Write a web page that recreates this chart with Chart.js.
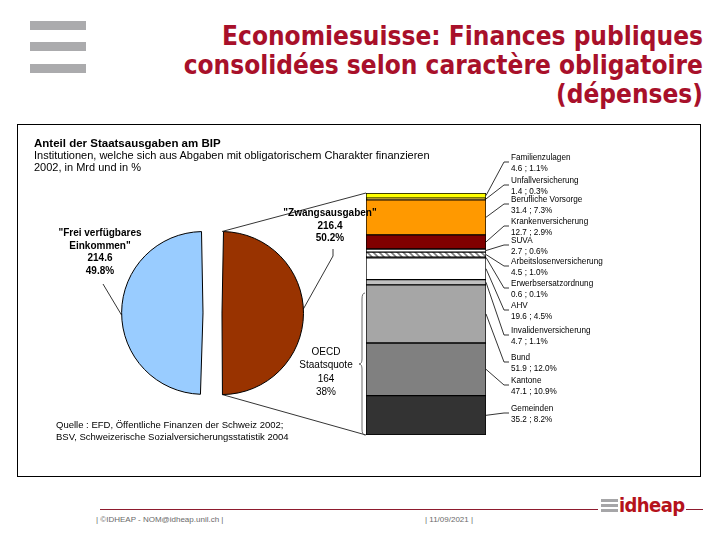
<!DOCTYPE html>
<html lang="de">
<head>
<meta charset="utf-8">
<title>Economiesuisse: Finances publiques consolidées</title>
<script src="https://cdn.jsdelivr.net/npm/chart.js@4.4.1/dist/chart.umd.min.js"></script>
<style>
  html, body { margin: 0; padding: 0; background: #fff; }
  #folie { position: relative; width: 720px; height: 540px; overflow: hidden;
           font-family: "Liberation Sans", Arial, sans-serif; color: #000; }
  .abs { position: absolute; white-space: nowrap; }
  #titel { right: 17px; top: 22px; text-align: right; color: #A8102A;
           font-family: "DejaVu Sans Condensed", "DejaVu Sans", sans-serif; font-stretch: condensed;
           font-weight: bold; font-size: 26px; line-height: 29px; }
  .icon-balken { position: absolute; left: 30px; width: 56px; height: 9px; background: #ABABAD; }
  #rahmen { position: absolute; left: 17px; top: 124px; width: 684px; height: 353px;
            box-sizing: border-box; border: 1px solid #000; }
  #cBalken { position: absolute; left: 17px; top: 124px; }
  #cKuchen { position: absolute; left: 92px; top: 193px; }
  #kopf { left: 34px; top: 137px; font-size: 11px; line-height: 12px; }
  #kopf b { font-size: 11.5px; }
  .kuchen-text { font-size: 10px; line-height: 12.5px; text-align: center; font-weight: bold; }
  #oecd { left: 296px; width: 60px; top: 345px; font-size: 10px; line-height: 13.3px; text-align: center; }
  #quelle { left: 56px; top: 419px; font-size: 9.5px; line-height: 12px; }
  .etikett { font-size: 9.5px; line-height: 10.5px; left: 511px;
             transform: scaleX(0.86); transform-origin: left top; }
  #fusslinie1 { position: absolute; left: 100px; top: 509px; width: 498px; height: 1px; background: #8E1B2E; }
  #fusslinie2 { position: absolute; left: 686px; top: 509px; width: 17px; height: 1px; background: #8E1B2E; }
  .fuss-text { font-size: 8px; color: #6a6a6a; top: 515px; }
  .logo-balken { position: absolute; left: 601px; width: 17px; height: 3px; background: #A6A6A8; }
  #logo { left: 619px; top: 493px; font-family: "DejaVu Sans Condensed", "DejaVu Sans", sans-serif;
          font-stretch: condensed; font-weight: bold; font-size: 20px; color: #B5121B; letter-spacing: -0.6px; }
</style>
</head>
<body>
<div id="folie">
  <div class="icon-balken" style="top:21px"></div>
  <div class="icon-balken" style="top:42px"></div>
  <div class="icon-balken" style="top:64px"></div>
  <div id="titel" class="abs">Economiesuisse: Finances publiques<br>consolidées selon caractère obligatoire<br>(dépenses)</div>

  <div id="rahmen"></div>
  <canvas id="cBalken" width="684" height="353"></canvas>
  <canvas id="cKuchen" width="241" height="240"></canvas>

  <div id="kopf" class="abs"><b>Anteil der Staatsausgaben am BIP</b><br>Institutionen, welche sich aus Abgaben mit obligatorischem Charakter finanzieren<br>2002, in Mrd und in %</div>
  <div id="quelle" class="abs">Quelle : EFD, Öffentliche Finanzen der Schweiz 2002;<br>BSV, Schweizerische Sozialversicherungsstatistik 2004</div>
  <div id="etiketten"></div>

  <div id="fusslinie1"></div>
  <div id="fusslinie2"></div>
  <div class="abs fuss-text" style="left:96px">| ©IDHEAP - NOM@idheap.unil.ch |</div>
  <div class="abs fuss-text" style="left:425px">| 11/09/2021 |</div>
  <div class="logo-balken" style="top:499px"></div>
  <div class="logo-balken" style="top:504px"></div>
  <div class="logo-balken" style="top:509px"></div>
  <div id="logo" class="abs">idheap</div>
</div>

<script>
// ==========================
// DATEN
// ==========================
const kategorien = [
  "Familienzulagen", "Unfallversicherung", "Berufliche Vorsorge", "Krankenversicherung",
  "SUVA", "Arbeitslosenversicherung", "Erwerbsersatzordnung", "AHV",
  "Invalidenversicherung", "Bund", "Kantone", "Gemeinden",
];
const werteMrd = [4.6, 1.4, 31.4, 12.7, 2.7, 4.5, 0.6, 19.6, 4.7, 51.9, 47.1, 35.2];
const anteileProzent = [1.1, 0.3, 7.3, 2.9, 0.6, 1.0, 0.1, 4.5, 1.1, 12.0, 10.9, 8.2];

const kuchenLabels = ["Zwangsausgaben", "Frei verfügbares Einkommen"];
const kuchenWerte = [216.4, 214.6];
const kuchenAnteile = [50.2, 49.8];

const oecdStaatsquote = 164;
const oecdAnteil = 38;

// ==========================
// LAYOUT / FARBEN
// ==========================
const RAHMEN_X = 17, RAHMEN_Y = 124;
const KUCHEN_X = 92, KUCHEN_Y = 193;
const KUCHEN_VERSATZ = 38; // Chart.js verschiebt um offset / 4
const etikettY = [157, 180, 199, 221, 240, 261, 283, 305, 330, 357, 380, 408];
const farbenKuchen = ["#993300", "#99CCFF"];

const ctxBalken = document.getElementById("cBalken").getContext("2d");

function schraffur() {
  const c = document.createElement("canvas");
  c.width = 6; c.height = 6;
  const g = c.getContext("2d");
  g.fillStyle = "#fff";
  g.fillRect(0, 0, 6, 6);
  g.strokeStyle = "#7f7f7f";
  g.lineWidth = 1.6;
  g.beginPath();
  g.moveTo(-3, 3); g.lineTo(3, 9);
  g.moveTo(0, 0); g.lineTo(6, 6);
  g.moveTo(3, -3); g.lineTo(9, 3);
  g.stroke();
  return ctxBalken.createPattern(c, "repeat");
}

const farbenBalken = [
  "#FFFF00", "#FFCC00", "#FF9900", "#800000", "#FFFFFF", schraffur(),
  "#000000", "#FFFFFF", "#C0C0C0", "#A6A6A6", "#808080", "#333333",
];

// ==========================
// TEXTE
// ==========================
const fmt = (v) => v.toFixed(1);
const etikettBox = document.getElementById("etiketten");
kategorien.forEach((name, i) => {
  const d = document.createElement("div");
  d.className = "abs etikett";
  d.style.top = (etikettY[i] - 5) + "px";
  d.innerHTML = name + "<br>" + fmt(werteMrd[i]) + " ; " + fmt(anteileProzent[i]) + "%";
  etikettBox.appendChild(d);
});

const folie = document.getElementById("folie");
function kuchenText(html, left, top) {
  const d = document.createElement("div");
  d.className = "abs kuchen-text";
  d.style.left = left + "px";
  d.style.top = top + "px";
  d.style.width = "120px";
  d.innerHTML = html;
  folie.appendChild(d);
}
kuchenText("\"Frei verfügbares<br>Einkommen\"<br>" + fmt(kuchenWerte[1]) + "<br>" + fmt(kuchenAnteile[1]) + "%", 40, 227);
kuchenText("\"" + kuchenLabels[0] + "\"<br>" + fmt(kuchenWerte[0]) + "<br>" + fmt(kuchenAnteile[0]) + "%", 270, 207);

const oecd = document.createElement("div");
oecd.id = "oecd";
oecd.className = "abs";
oecd.innerHTML = "OECD<br>Staatsquote<br>" + oecdStaatsquote + "<br>" + oecdAnteil + "%";
folie.appendChild(oecd);

// ==========================
// KUCHEN
// ==========================
const kuchen = new Chart(document.getElementById("cKuchen"), {
  type: "pie",
  data: {
    labels: kuchenLabels,
    datasets: [{
      data: kuchenWerte,
      backgroundColor: farbenKuchen,
      borderColor: "#000",
      borderWidth: 1,
      offset: KUCHEN_VERSATZ,
      radius: 72,
    }],
  },
  options: {
    responsive: false,
    animation: false,
    devicePixelRatio: 1,
    layout: { padding: 0 },
    plugins: { legend: { display: false }, tooltip: { enabled: false } },
  },
});

// ==========================
// LINIEN (Beschriftung, Klammer, Verbindung)
// ==========================
const linienPlugin = {
  id: "linien",
  afterDatasetsDraw(chart) {
    const ctx = chart.ctx;
    const n = kategorien.length;
    const erster = chart.getDatasetMeta(0).data[0];
    const links = erster.x - erster.width / 2;
    const rechts = erster.x + erster.width / 2;
    const oben = chart.scales.y.getPixelForValue(chart.scales.y.max);
    const unten = chart.scales.y.getPixelForValue(0);

    ctx.save();
    ctx.strokeStyle = "#000";
    ctx.lineWidth = 0.8;

    // Führungslinien zu den Etiketten
    kategorien.forEach((name, i) => {
      const bar = chart.getDatasetMeta(n - 1 - i).data[0];
      const mitte = (bar.y + bar.base) / 2;
      const ay = etikettY[i] + 5 - RAHMEN_Y;
      ctx.beginPath();
      ctx.moveTo(rechts, mitte);
      ctx.lineTo(504 - RAHMEN_X, ay);
      ctx.lineTo(509 - RAHMEN_X, ay);
      ctx.stroke();
    });

    // Verbindung Kuchen -> Balken
    const arc = kuchen.getDatasetMeta(0).data[0];
    const versatz = KUCHEN_VERSATZ / 4;
    const kx = KUCHEN_X + arc.x - RAHMEN_X;
    const ky = KUCHEN_Y + arc.y - RAHMEN_Y;
    const r = arc.outerRadius + versatz;
    ctx.beginPath();
    ctx.moveTo(kx + versatz, ky - r);
    ctx.lineTo(links, oben);
    ctx.moveTo(kx + versatz, ky + r);
    ctx.lineTo(links, unten);
    ctx.stroke();

    // Führungslinien am Kuchen
    ctx.beginPath();
    ctx.moveTo(333 - RAHMEN_X, 249 - RAHMEN_Y);
    ctx.lineTo(333 - RAHMEN_X, 256 - RAHMEN_Y);
    ctx.lineTo(kx + versatz + r * Math.cos(0.05), ky - r * Math.sin(0.05));
    ctx.moveTo(103 - RAHMEN_X, 284 - RAHMEN_Y);
    ctx.lineTo(kx - versatz - r * Math.cos(0.03), ky + 2);
    ctx.stroke();

    // Klammer OECD
    const bx = links - 1, y1 = 293 - RAHMEN_Y, y2 = unten, ym = (y1 + y2) / 2, w = 3;
    ctx.strokeStyle = "#444";
    ctx.beginPath();
    ctx.moveTo(bx, y1);
    ctx.quadraticCurveTo(bx - w, y1, bx - w, y1 + 6);
    ctx.lineTo(bx - w, ym - 5);
    ctx.quadraticCurveTo(bx - w, ym, bx - 2 * w, ym);
    ctx.quadraticCurveTo(bx - w, ym, bx - w, ym + 5);
    ctx.lineTo(bx - w, y2 - 6);
    ctx.quadraticCurveTo(bx - w, y2, bx, y2);
    ctx.stroke();
    ctx.restore();
  },
};

// ==========================
// GESTAPELTER BALKEN
// ==========================
const gesamt = werteMrd.reduce((a, b) => a + b, 0);
const ordnung = kategorien.map((_, i) => i).reverse();

new Chart(document.getElementById("cBalken"), {
  type: "bar",
  data: {
    labels: ["Zwangsausgaben"],
    datasets: ordnung.map((i) => ({
      label: kategorien[i],
      data: [werteMrd[i]],
      backgroundColor: farbenBalken[i],
      borderColor: "#000",
      borderWidth: 1,
      borderSkipped: false,
      barPercentage: 1,
      categoryPercentage: 1,
    })),
  },
  options: {
    responsive: false,
    animation: false,
    devicePixelRatio: 1,
    layout: { padding: { left: 349, right: 215, top: 69, bottom: 42 } },
    plugins: { legend: { display: false }, tooltip: { enabled: false } },
    scales: {
      x: { display: false, stacked: true },
      y: { display: false, stacked: true, min: 0, max: gesamt },
    },
  },
  plugins: [linienPlugin],
});
</script>
</body>
</html>
